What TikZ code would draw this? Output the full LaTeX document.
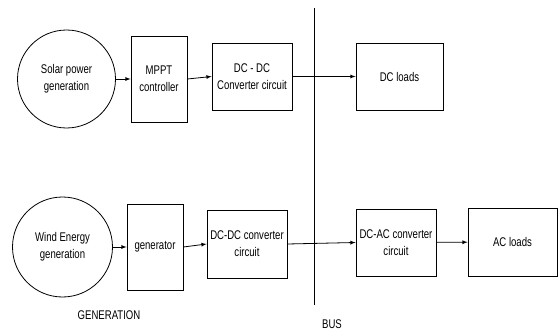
\documentclass[tikz,border=0pt]{standalone}
\usepackage{fontspec}
\setmainfont{Liberation Sans}[FakeStretch=0.76]
\usetikzlibrary{arrows}
\tikzset{
  blockbox/.style = {draw, thick, minimum width=#1, align=center, inner sep=0pt, font=\fontsize{12.6}{17}\selectfont},
  sourcecirc/.style = {draw, thick, circle, minimum size=#1, align=center, inner sep=0pt, font=\fontsize{12.6}{17}\selectfont},
  flow/.style = {-latex, thick}
}
\begin{document}
\begin{tikzpicture}[x=1pt, y=-1pt, line width=0.8pt]
		\useasboundingbox (0,0) rectangle (558,332);

		% Solar branch
		\node[sourcecirc=98pt] (solar) at (66.5,79) {Solar power\\generation};
		\node[blockbox=56pt, minimum height=86pt] (mppt) at (159,79) {MPPT\\controller};
		\node[blockbox=80pt, minimum height=67pt] (dcdcA) at (252,76.5) {DC - DC\\Converter circuit};
		\node[blockbox=87pt, minimum height=67pt] (dcload) at (399.5,76.5) {DC loads};

		% Wind branch
		\node[sourcecirc=100pt] (wind) at (62.5,247) {Wind Energy\\generation};
		\node[blockbox=56pt, minimum height=86pt] (gen) at (155,247) {generator};
		\node[blockbox=80pt, minimum height=68pt] (dcdcB) at (247,244) {DC-DC converter\\circuit};
		\node[blockbox=80pt, minimum height=67pt] (dcac) at (396,242.5) {DC-AC converter\\circuit};
		\node[blockbox=89pt, minimum height=68pt] (acload) at (512.5,242) {AC loads};

		% Bus
		\coordinate (bustop) at (314,8);
		\coordinate (busbot) at (314,305);
		\draw (bustop) -- (busbot);

		% Arrows
		\draw[flow] (solar) -- (mppt);
		\draw[flow] (mppt.east) -- (dcdcA.west);
		\draw[flow] (dcdcA) -- (dcload);
		%
		\draw[flow] (wind) -- (gen);
		\draw[flow] (gen.east) -- (dcdcB.west);
		\draw[flow] (dcdcB.east) -- (dcac.west);
		\draw[flow] (dcac) -- (acload);

		% Labels
		\node[font=\fontsize{12.6}{17}\selectfont] (genlabel) at (109,315) {GENERATION};
		\node[font=\fontsize{12.6}{17}\selectfont] (buslabel) at (332,324) {BUS};
	\end{tikzpicture}
\end{document}
